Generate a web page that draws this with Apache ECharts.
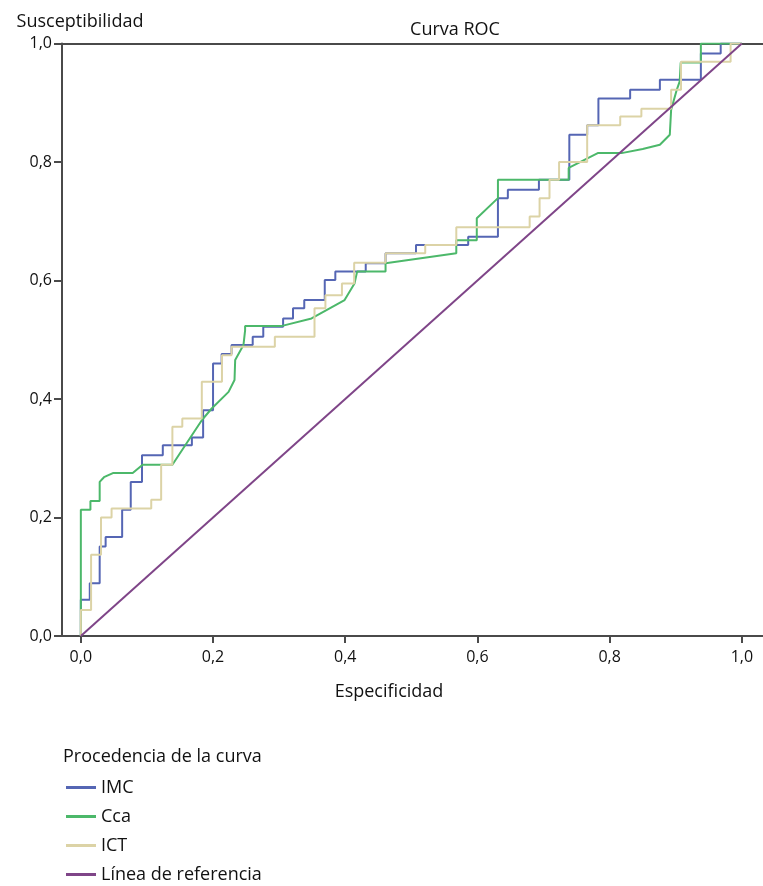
<!DOCTYPE html>
<html lang="es">
<head>
    <meta charset="UTF-8">
    <title>Curva ROC</title>
    <script src="https://cdn.jsdelivr.net/npm/echarts@6/dist/echarts.min.js"></script>
    <style>
        html, body {
            margin: 0;
            padding: 0;
            background: #fff;
        }

        #chart {
            width: 763px;
            height: 886px;
        }
    </style>
</head>
<body>
<div id="chart"></div>
<script>
    // tick values (same on both axes)
    const ticks = [0, 0.2, 0.4, 0.6, 0.8, 1.0];
    const seriesNames = ['IMC', 'Cca', 'ICT', 'Línea de referencia'];
    const colors = ['#5566b4', '#4cb86a', '#dcd3a6', '#7f4588'];

    // corner points of each ROC curve, [1 - especificidad, susceptibilidad]
    const imc = [
        [0, 0], [0, 0.061], [0.0135, 0.061], [0.0135, 0.089], [0.0285, 0.089], [0.0285, 0.151],
        [0.0375, 0.151], [0.0375, 0.167], [0.0625, 0.167], [0.0625, 0.213], [0.0755, 0.213],
        [0.0755, 0.26], [0.0925, 0.26], [0.0925, 0.305], [0.124, 0.305], [0.124, 0.322],
        [0.168, 0.322], [0.168, 0.335], [0.185, 0.335], [0.185, 0.381], [0.2, 0.381], [0.2, 0.46],
        [0.213, 0.46], [0.213, 0.476], [0.228, 0.476], [0.228, 0.491], [0.26, 0.491], [0.26, 0.505],
        [0.276, 0.505], [0.276, 0.522], [0.306, 0.522], [0.306, 0.536], [0.321, 0.536],
        [0.321, 0.553], [0.338, 0.553], [0.338, 0.567], [0.369, 0.567], [0.369, 0.601],
        [0.385, 0.601], [0.385, 0.615], [0.431, 0.615], [0.431, 0.629], [0.461, 0.629],
        [0.461, 0.646], [0.507, 0.646], [0.507, 0.66], [0.586, 0.66], [0.586, 0.674],
        [0.631, 0.674], [0.631, 0.739], [0.646, 0.739], [0.646, 0.753], [0.693, 0.753],
        [0.693, 0.77], [0.739, 0.77], [0.739, 0.846], [0.766, 0.846], [0.766, 0.862],
        [0.783, 0.862], [0.783, 0.907], [0.831, 0.907], [0.831, 0.922], [0.876, 0.922],
        [0.876, 0.939], [0.938, 0.939], [0.938, 0.983], [0.968, 0.983], [0.968, 1], [1, 1]
    ];
    const cca = [
        [0, 0], [0, 0.213], [0.0145, 0.213], [0.0145, 0.228], [0.0285, 0.228], [0.0285, 0.26],
        [0.035, 0.268], [0.0485, 0.275], [0.0785, 0.275], [0.0935, 0.289], [0.1385, 0.289],
        [0.1835, 0.365], [0.198, 0.384], [0.2235, 0.412], [0.2325, 0.432], [0.2335, 0.466],
        [0.246, 0.491], [0.2485, 0.516], [0.2485, 0.523], [0.303, 0.523], [0.349, 0.536],
        [0.399, 0.567], [0.414, 0.595], [0.418, 0.615], [0.461, 0.615], [0.461, 0.629],
        [0.568, 0.646], [0.568, 0.668], [0.599, 0.668], [0.599, 0.705], [0.631, 0.739],
        [0.631, 0.77], [0.738, 0.77], [0.738, 0.79], [0.782, 0.815], [0.818, 0.815],
        [0.85, 0.822], [0.876, 0.829], [0.891, 0.846], [0.893, 0.888], [0.901, 0.92],
        [0.906, 0.936], [0.9075, 0.968], [0.938, 0.968], [0.938, 1], [1, 1]
    ];
    const ict = [
        [0, 0], [0, 0.044], [0.0155, 0.044], [0.0155, 0.137], [0.0305, 0.137], [0.0305, 0.2],
        [0.0465, 0.2], [0.0465, 0.215], [0.1065, 0.215], [0.1065, 0.23], [0.1215, 0.23],
        [0.1215, 0.289], [0.1385, 0.289], [0.1385, 0.353], [0.1535, 0.353], [0.1535, 0.367],
        [0.183, 0.367], [0.183, 0.429], [0.2135, 0.429], [0.2135, 0.474], [0.228, 0.474],
        [0.228, 0.488], [0.2935, 0.488], [0.2935, 0.505], [0.3535, 0.505], [0.3535, 0.553],
        [0.37, 0.553], [0.37, 0.575], [0.395, 0.575], [0.395, 0.595], [0.4135, 0.595],
        [0.4135, 0.63], [0.461, 0.63], [0.461, 0.646], [0.521, 0.646], [0.521, 0.66],
        [0.568, 0.66], [0.568, 0.69], [0.679, 0.69], [0.679, 0.708], [0.694, 0.708],
        [0.694, 0.739], [0.709, 0.739], [0.709, 0.77], [0.7235, 0.77], [0.7235, 0.8],
        [0.766, 0.8], [0.766, 0.862], [0.816, 0.862], [0.816, 0.877], [0.848, 0.877],
        [0.848, 0.89], [0.893, 0.89], [0.893, 0.922], [0.908, 0.922], [0.908, 0.969],
        [0.983, 0.969], [0.983, 1], [1, 1]
    ];
    const reference = [[0, 0], [1, 1]];

    const font = 'Open Sans';
    const ink = '#111';
    const axisColor = '#4a4a4a';
    const comma = v => v.toFixed(1).replace('.', ',');

    const chart = echarts.init(document.getElementById('chart'), null, {renderer: 'canvas'});

    function curve(name, data, color) {
        return {
            name: name,
            type: 'line',
            data: data,
            showSymbol: false,
            symbol: 'none',
            lineStyle: {color: color, width: 2},
            itemStyle: {color: color},
            emphasis: {disabled: true},
            z: 3
        };
    }

    function label(text, left, top, align) {
        return {
            text: text, left: left, top: top,
            textAlign: align, textVerticalAlign: 'middle', padding: 0,
            textStyle: {fontFamily: font, fontSize: 18, fontWeight: 'normal', color: ink}
        };
    }

    const option = {
        animation: false,
        backgroundColor: '#fff',
        title: [
            label('Susceptibilidad', 80, 22, 'center'),
            label('Curva ROC', 455, 30, 'center'),
            label('Especificidad', 389, 692, 'center'),
            label('Procedencia de la curva', 63, 757, 'left')
        ],
        legend: {
            data: seriesNames,
            orient: 'vertical',
            left: 66,
            top: 777,
            height: 140,
            padding: 0,
            icon: 'rect',
            itemWidth: 30,
            itemHeight: 3,
            itemGap: 8,
            selectedMode: false,
            textStyle: {fontFamily: font, fontSize: 18, color: ink, lineHeight: 21}
        },
        grid: {left: 62, right: -7, top: 43.5, bottom: 250, containLabel: false},
        xAxis: [
            {
                type: 'value',
                min: -0.0285,
                max: 1.032,
                axisLine: {show: true, onZero: false, lineStyle: {color: axisColor, width: 2}},
                axisTick: {show: true, customValues: ticks, length: 7, lineStyle: {color: axisColor, width: 2}},
                axisLabel: {
                    customValues: ticks, margin: 13, formatter: comma,
                    fontFamily: font, fontSize: 16, color: ink
                },
                splitLine: {show: false}
            },
            {
                type: 'value',
                position: 'top',
                min: -0.0285,
                max: 1.032,
                axisLine: {show: true, onZero: false, lineStyle: {color: axisColor, width: 2}},
                axisTick: {show: false},
                axisLabel: {show: false},
                splitLine: {show: false}
            }
        ],
        yAxis: {
            type: 'value',
            min: 0,
            max: 1,
            interval: 0.2,
            axisLine: {show: true, onZero: false, lineStyle: {color: axisColor, width: 2}},
            axisTick: {show: true, length: 8, lineStyle: {color: axisColor, width: 2}},
            axisLabel: {margin: 10, formatter: comma, fontFamily: font, fontSize: 16, color: ink},
            splitLine: {show: false}
        },
        series: [
            curve(seriesNames[0], imc, colors[0]),
            curve(seriesNames[1], cca, colors[1]),
            curve(seriesNames[2], ict, colors[2]),
            curve(seriesNames[3], reference, colors[3])
        ]
    };

    chart.setOption(option);
</script>
</body>
</html>
